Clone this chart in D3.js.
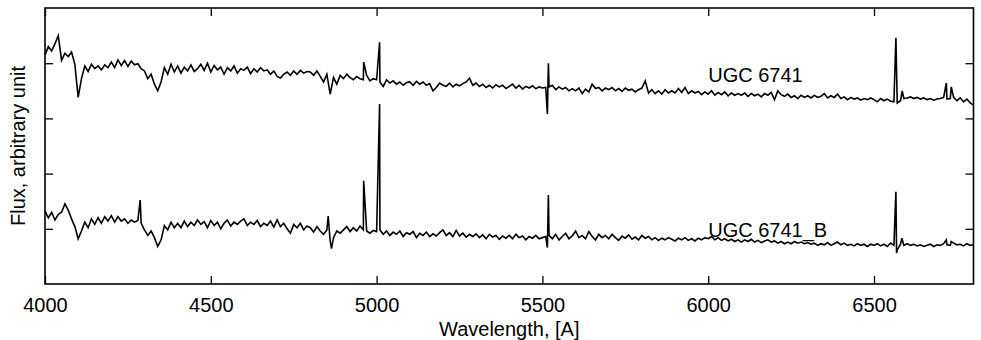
<!DOCTYPE html>
<html><head><meta charset="utf-8">
<script src="https://cdn.jsdelivr.net/npm/d3@7"></script>
<style>
html,body{margin:0;padding:0;background:#fff;}
svg{display:block;font-family:"Liberation Sans",Arial,Helvetica,sans-serif;}
</style></head>
<body><svg id="c" width="981" height="340"></svg>
<script>
// Wavelength grid (Angstrom) for continuum samples
const waveStart = 4000, waveEnd = 6800, waveStep = 10;
const xTicks = [4000, 4500, 5000, 5500, 6000, 6500];
const yTicks = [1, 2, 3, 4];
const seriesNames = ["UGC 6741", "UGC 6741_B"];

// Upper spectrum: UGC 6741 (arbitrary flux units), 10 A sampling from 4000 A
const fluxUGC6741 = [
4.15,4.30,4.22,4.35,4.50,4.05,4.18,4.12,4.20,3.98,
3.38,3.72,3.95,3.85,3.98,3.90,3.95,3.88,3.97,3.92,
4.02,3.92,4.06,3.96,4.05,3.94,4.04,3.97,3.99,3.90,
3.86,3.72,3.80,3.62,3.50,3.66,3.92,3.80,3.98,3.84,
3.95,3.82,3.93,3.86,3.97,3.85,3.90,3.98,3.87,4.00,
3.84,3.96,3.88,3.93,3.80,3.92,3.86,3.95,3.82,3.90,
3.87,3.93,3.81,3.90,3.84,3.92,3.86,3.88,3.80,3.86,
3.76,3.73,3.80,3.84,3.78,3.86,3.80,3.87,3.82,3.85,
3.84,3.78,3.86,3.76,3.66,3.80,3.44,3.74,3.62,3.78,
3.72,3.80,3.74,3.70,3.76,3.72,3.70,3.78,3.68,3.72,
3.70,3.66,3.58,3.70,3.64,3.68,3.62,3.66,3.60,3.65,
3.66,3.60,3.67,3.62,3.66,3.60,3.63,3.50,3.56,3.64,
3.60,3.58,3.64,3.57,3.62,3.59,3.63,3.66,3.73,3.60,
3.64,3.58,3.62,3.56,3.60,3.55,3.61,3.57,3.60,3.54,
3.58,3.62,3.55,3.60,3.53,3.58,3.55,3.59,3.54,3.57,
3.55,3.56,3.57,3.60,3.52,3.57,3.53,3.56,3.50,3.54,
3.50,3.55,3.45,3.53,3.48,3.62,3.54,3.56,3.50,3.55,
3.52,3.56,3.50,3.54,3.49,3.55,3.51,3.53,3.48,3.52,
3.55,3.68,3.46,3.52,3.45,3.50,3.44,3.52,3.46,3.50,
3.46,3.54,3.47,3.56,3.45,3.50,3.46,3.49,3.43,3.48,
3.44,3.50,3.42,3.47,3.43,3.48,3.41,3.46,3.42,3.45,
3.42,3.46,3.40,3.45,3.41,3.44,3.39,3.45,3.42,3.47,
3.34,3.50,3.43,3.40,3.44,3.38,3.41,3.36,3.42,3.38,
3.41,3.37,3.42,3.38,3.40,3.45,3.37,3.41,3.38,3.44,
3.36,3.39,3.34,3.38,3.35,3.37,3.33,3.36,3.34,3.37,
3.34,3.30,3.36,3.32,3.35,3.31,3.30,3.28,3.32,3.36,
3.37,3.39,3.36,3.38,3.35,3.37,3.34,3.36,3.33,3.35,
3.36,3.38,3.35,3.36,3.38,3.32,3.37,3.30,3.35,3.28,
3.24];
// Narrow features of UGC 6741: [wavelength, flux]
const linesUGC6741 = [[4961,4.02],[5009,4.38],[5515,3.08],[5518,4.00],[6566,4.46],[6585,3.50],[6718,3.64],[6733,3.57]];

// Lower spectrum: UGC 6741_B
const fluxUGC6741B = [
1.32,1.20,1.30,1.16,1.26,1.30,1.45,1.34,1.18,1.04,
0.82,0.96,1.12,1.02,1.18,1.08,1.20,1.10,1.22,1.14,
1.24,1.12,1.22,1.14,1.18,1.10,1.16,1.12,1.15,1.10,
0.98,0.88,0.96,0.84,0.68,0.80,1.06,0.98,1.12,1.02,
1.10,1.02,1.14,1.04,1.12,1.06,1.16,1.08,1.13,1.02,
1.15,1.06,1.12,1.00,1.10,1.16,1.05,1.12,1.08,1.14,
1.18,1.06,1.12,1.08,1.15,1.04,1.10,1.06,1.14,1.03,
1.16,1.04,1.10,1.00,0.92,1.08,1.02,1.10,0.98,1.05,
1.02,0.94,1.04,0.96,0.90,0.98,0.78,0.84,0.96,0.92,
0.98,1.04,0.95,1.02,0.96,1.05,0.98,0.96,0.92,0.97,
0.95,0.98,0.90,0.96,0.88,0.94,0.90,0.96,0.86,0.93,
0.90,0.95,0.84,0.92,0.88,0.94,0.86,0.91,0.87,0.93,
0.98,0.88,0.93,0.86,0.97,0.87,0.92,0.85,0.90,0.86,
0.91,0.84,0.89,0.82,0.90,0.85,0.88,0.81,0.87,0.83,
0.88,0.82,0.90,0.84,0.87,0.80,0.86,0.83,0.88,0.82,
0.84,0.86,0.88,0.82,0.90,0.80,0.86,0.92,0.82,0.87,
0.96,0.84,0.88,0.82,0.95,0.86,0.80,0.90,0.84,0.88,
0.82,0.90,0.84,0.79,0.87,0.83,0.89,0.81,0.85,0.80,
0.88,0.83,0.86,0.80,0.84,0.79,0.83,0.80,0.84,0.81,
0.78,0.83,0.80,0.84,0.79,0.82,0.78,0.83,0.80,0.84,
0.82,0.86,0.80,0.84,0.79,0.82,0.78,0.81,0.77,0.80,
0.76,0.80,0.77,0.81,0.76,0.79,0.75,0.78,0.80,0.76,
0.78,0.74,0.77,0.73,0.76,0.73,0.77,0.74,0.76,0.73,
0.75,0.72,0.74,0.70,0.73,0.71,0.75,0.70,0.73,0.76,
0.71,0.74,0.70,0.72,0.69,0.73,0.70,0.72,0.68,0.72,
0.70,0.73,0.69,0.72,0.68,0.74,0.70,0.62,0.72,0.70,
0.73,0.70,0.72,0.69,0.71,0.68,0.70,0.72,0.68,0.71,
0.70,0.73,0.71,0.70,0.74,0.71,0.72,0.69,0.73,0.70,
0.71];
const linesUGC6741B = [[4287,1.52],[4854,1.23],[4864,0.64],[4961,1.87],[5009,3.26],[5515,0.66],[5518,1.61],[6566,1.67],[6568,0.56],[6584,0.83],[6718,0.80],[6733,0.77]];

// label anchor positions in data units
const labelWave = [6000, 6000];
const labelFlux = [3.66, 0.85];

const W = 981, H = 340;
const m = {left:45, right:7.5, top:8, bottom:56};
const iw = W - m.left - m.right, ih = H - m.top - m.bottom;
const svg = d3.select("#c");
const g = svg.append("g").attr("transform", `translate(${m.left},${m.top})`);

const x = d3.scaleLinear().domain([waveStart, waveEnd]).range([0, iw]);
const y = d3.scaleLinear().domain([0, 5]).range([ih, 0]);

function build(flux, lines) {
  const pts = flux.map((f, i) => [waveStart + i * waveStep, f]);
  return pts.concat(lines).sort((a, b) => a[0] - b[0]);
}
const series = [build(fluxUGC6741, linesUGC6741), build(fluxUGC6741B, linesUGC6741B)];

const line = d3.line().x(d => x(d[0])).y(d => y(d[1]));
g.selectAll("path.spec").data(series).join("path")
  .attr("class", "spec").attr("d", line)
  .attr("fill", "none").attr("stroke", "#000").attr("stroke-width", 1.6)
  .attr("stroke-linejoin", "miter");

// axes
const fs = 20;
const ax = g.append("g").attr("transform", `translate(0,${ih})`)
  .call(d3.axisBottom(x).tickValues(xTicks).tickSize(-8).tickPadding(14).tickFormat(d3.format("d")));
const axT = g.append("g").call(d3.axisTop(x).tickValues(xTicks).tickSize(-8).tickFormat(""));
const ayL = g.append("g").call(d3.axisLeft(y).tickValues(yTicks).tickSize(-8).tickFormat(""));
const ayR = g.append("g").attr("transform", `translate(${iw},0)`)
  .call(d3.axisRight(y).tickValues(yTicks).tickSize(-8).tickFormat(""));
[ax, axT, ayL, ayR].forEach(a => {
  a.select(".domain").remove();
  a.selectAll(".tick line").attr("stroke", "#000").attr("stroke-width", 1.3);
});
ax.selectAll(".tick text").attr("font-size", fs).attr("fill", "#000")
  .attr("font-family", '"Liberation Sans",Arial,sans-serif');

g.append("rect").attr("x", 0).attr("y", 0).attr("width", iw).attr("height", ih)
  .attr("fill", "none").attr("stroke", "#000").attr("stroke-width", 1.6);

// series labels
g.selectAll("text.lbl").data(seriesNames).join("text").attr("class", "lbl")
  .attr("x", (d, i) => x(labelWave[i])).attr("y", (d, i) => y(labelFlux[i]))
  .attr("font-size", fs).attr("fill", "#000").text(d => d);

// axis titles
svg.append("text").attr("x", m.left + iw / 2).attr("y", 335.5).attr("text-anchor", "middle")
  .attr("font-size", fs).attr("fill", "#000").text("Wavelength, [A]");
svg.append("text").attr("transform", `translate(25,${m.top + ih / 2}) rotate(-90)`)
  .attr("text-anchor", "middle").attr("font-size", fs).attr("fill", "#000")
  .text("Flux, arbitrary unit");
</script></body></html>
